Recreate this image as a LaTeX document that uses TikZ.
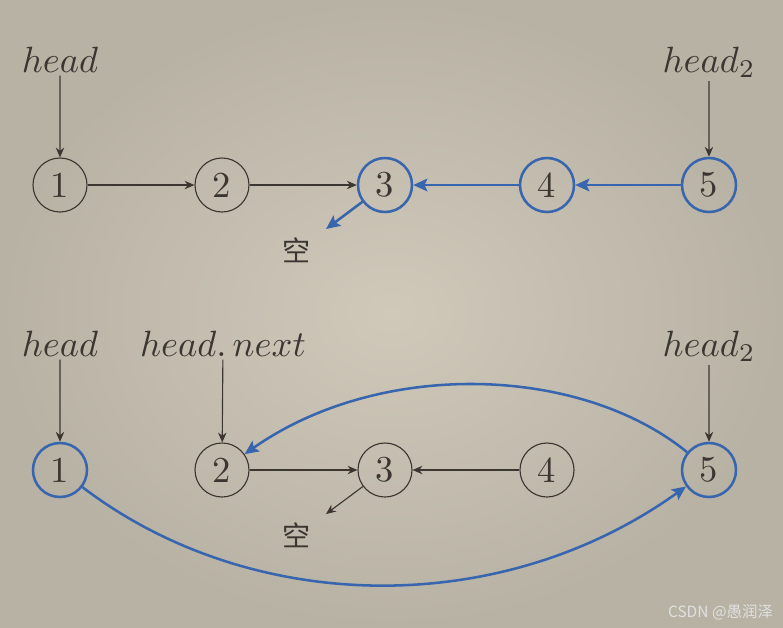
\documentclass[tikz,border=0pt]{standalone}
\usepackage{fontspec}
\newfontfamily\cjk{Noto Sans CJK SC}
\usetikzlibrary{arrows.meta}
\definecolor{encre}{HTML}{3B3631}
\definecolor{bleuLL}{HTML}{3765AE}
\definecolor{fondclair}{HTML}{D0C9BA}
\definecolor{fondsombre}{HTML}{B8B2A5}

\begin{document}
\begin{tikzpicture}[x=0.025cm,y=-0.025cm]
\tikzstyle{rond} = [circle,draw=encre,line width=0.8pt,minimum size=1.35cm,inner sep=0pt,text=encre];
\tikzstyle{rondbleu} = [rond,draw=bleuLL,line width=1.8pt];
\tikzstyle{noir} = [-{Stealth[length=7pt,width=6pt]},encre,line width=0.8pt];
\tikzstyle{bleu} = [-{Stealth[length=10pt,width=9pt,inset=2pt]},bleuLL,line width=1.8pt];
\tikzstyle{etiq} = [anchor=base,inner sep=0.8pt,text=encre,scale=2.6,transform shape];
\tikzstyle{vide} = [text=encre,font=\cjk\fontsize{20}{24}\selectfont];

\useasboundingbox (0,0) rectangle (783,627);
\shade[inner color=fondclair,outer color=fondsombre] (0,0) rectangle (783,627);

% premiere ligne : on retourne la fin de la liste
\foreach \i/\x/\s in {1/60/rond,2/222/rond,3/385/rondbleu,4/547/rondbleu,5/709/rondbleu}{
	\node[\s] (a\i) at (\x,185) {\scalebox{2.6}{\i}};
}
\node[etiq] (ha) at (60,72) {$head$};
\node[etiq] (ha2) at (709,72) {$head_2$};
\node[vide] (vide1) at (297,250) {空};
\coordinate (fin1) at (326,229);

\draw[noir] (ha) -- (a1);
\draw[noir] (ha2) -- (a5);
\draw[noir] (a1) -- (a2);
\draw[noir] (a2) -- (a3);
\draw[bleu] (a5) -- (a4);
\draw[bleu] (a4) -- (a3);
\draw[bleu] (a3) -- (fin1);

% deuxieme ligne : on raccorde
\foreach \i/\x/\s in {1/60/rondbleu,2/222/rond,3/385/rond,4/547/rond,5/709/rondbleu}{
	\node[\s] (b\i) at (\x,470) {\scalebox{2.6}{\i}};
}
\node[etiq] (hb) at (60,356) {$head$};
\node[etiq] (hbn) at (223,356) {$head.\,next$};
\node[etiq] (hb2) at (709,356) {$head_2$};
\node[vide] (vide2) at (297,535) {空};
\coordinate (fin2) at (326,514);

\draw[noir] (hb) -- (b1);
\draw[noir] (hbn) -- (b2);
\draw[noir] (hb2) -- (b5);
\draw[noir] (b2) -- (b3);
\draw[noir] (b4) -- (b3);
\draw[noir] (b3) -- (fin2);
\draw[bleu] (b5) .. controls (580,365) and (380,359) .. (b2);
\draw[bleu] (b1) .. controls (250,615) and (500,620) .. (b5);

\node[anchor=east,text=white!88!black,font=\cjk\fontsize{11}{13}\selectfont] (marque) at (778,612) {CSDN @愚润泽};
%\node[encre] at (222,455) {+};

\end{tikzpicture}
\end{document}
